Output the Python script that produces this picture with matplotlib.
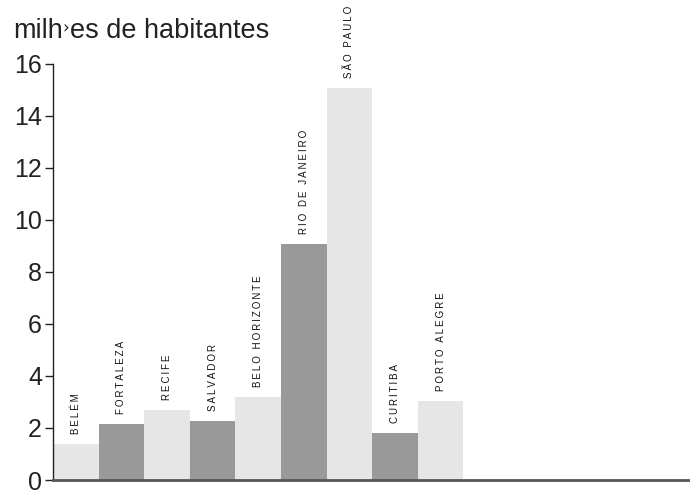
import matplotlib
matplotlib.use("Agg")
import matplotlib.pyplot as plt

plt.rcParams['font.family'] = ['Liberation Sans', 'DejaVu Sans']

cities = ["BELÉM", "FORTALEZA", "RECIFE", "SALVADOR", "BELO HORIZONTE",
          "RIO DE JANEIRO", "SÃO PAULO", "CURITIBA", "PORTO ALEGRE"]
population = [1.38, 2.14, 2.68, 2.28, 3.17, 9.05, 15.06, 1.82, 3.02]
yticks = [0, 2, 4, 6, 8, 10, 12, 14, 16]
title_parts = ["milh", "\u203a", "es de habitantes"]

light = "#e6e6e6"
dark = "#999999"
colors = [light if i % 2 == 0 else dark for i in range(len(cities))]

def spaced(s):
    return "\u2009 \u2009".join("\u2009".join(w) for w in s.split(" "))

fig = plt.figure(figsize=(6.9, 4.91), dpi=100)
ax = fig.add_axes([53/690, 1-480/491, 1-53/690, (480-63.5)/491])

x = list(range(len(cities)))
ax.bar(x, population, width=1.0, color=colors, linewidth=0, zorder=2)

for xi, v, name in zip(x, population, cities):
    ax.annotate(spaced(name), (xi, v), xytext=(0, 7.2), textcoords="offset points",
                rotation=90, ha="center", va="bottom", fontsize=7, color="#111111",
                annotation_clip=False)

ax.set_xlim(-0.5, 13.47)
ax.set_ylim(0, 16)
ax.set_yticks(yticks)
ax.set_yticklabels([str(t) for t in yticks])
ax.tick_params(axis='y', labelsize=18, length=6, width=1, pad=2, colors="#222222", direction='out')
ax.tick_params(axis='x', bottom=False, labelbottom=False)
for s in ["top", "right"]:
    ax.spines[s].set_visible(False)
ax.spines["left"].set_color("#222222")
ax.spines["left"].set_linewidth(1)
ax.spines["bottom"].set_color("#555555")
ax.spines["bottom"].set_linewidth(2)

ybase = 1 - 38/491
t1 = fig.text(13/690, ybase, title_parts[0], fontsize=19.5, color="#222222", ha="left", va="baseline")
t2 = fig.text(0, ybase + 5/491, title_parts[1], fontsize=12, color="#222222", ha="left", va="baseline",
              family="DejaVu Sans")
t3 = fig.text(0, ybase, title_parts[2], fontsize=19.5, color="#222222", ha="left", va="baseline")
fig.canvas.draw()
r = fig.canvas.get_renderer()
x1 = t1.get_window_extent(r).x1 / fig.bbox.width
t2.set_x(x1)
x2 = t2.get_window_extent(r).x1 / fig.bbox.width
t3.set_x(x2)

fig.savefig("out.png", dpi=100)
